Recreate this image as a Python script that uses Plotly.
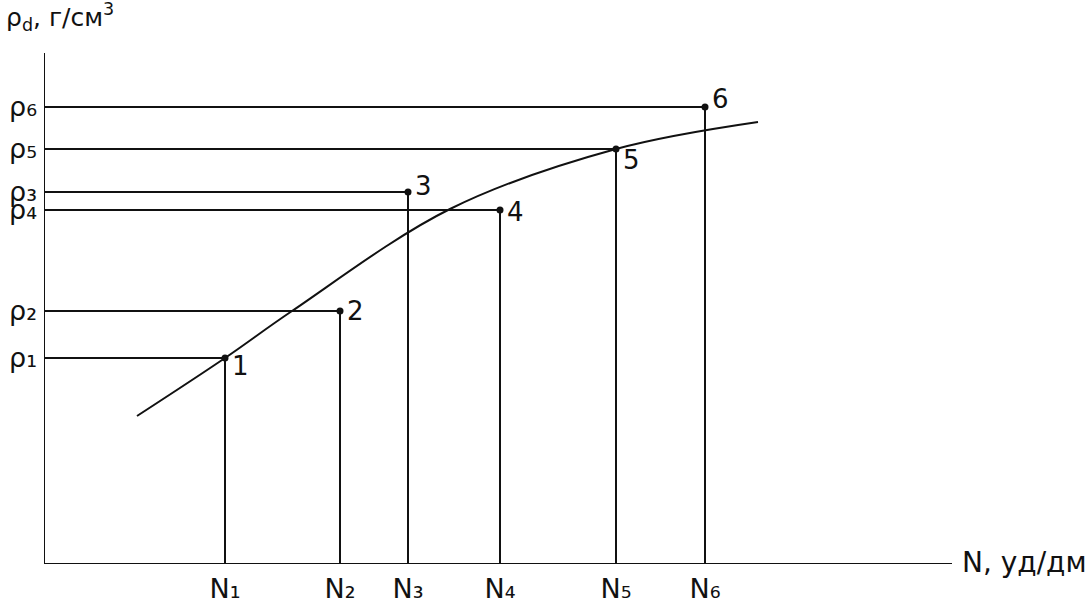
import plotly.graph_objects as go

# Data (arbitrary units)
point_ids = ["1", "2", "3", "4", "5", "6"]
N_vals = [181, 296, 364, 456, 572, 661]
rho_vals = [206, 253, 372, 354, 415, 457]
N_labels = ["N₁", "N₂", "N₃", "N₄", "N₅", "N₆"]
rho_labels = ["ρ₁", "ρ₂", "ρ₃", "ρ₄", "ρ₅", "ρ₆"]

curve_x = [93, 181, 248, 406, 572, 714]
curve_y = [148, 206, 253, 355, 415, 442]

x_axis_end = 908
y_axis_end = 511

# label offsets (px) for point numbers
label_dy = [-8, 0, 6, -2, -11, 8]

FONT = "DejaVu Sans"
COL = "#111111"

fig = go.Figure()

# axes
fig.add_trace(go.Scatter(x=[0, 0, None, 0, x_axis_end], y=[y_axis_end, 0, None, 0, 0],
                         mode="lines", line=dict(color=COL, width=2), hoverinfo="skip"))

# projection lines
gx, gy = [], []
for n, r in zip(N_vals, rho_vals):
    gx += [0, n, n, None]
    gy += [r, r, 0, None]
fig.add_trace(go.Scatter(x=gx, y=gy, mode="lines", line=dict(color=COL, width=2), hoverinfo="skip"))

# curve
fig.add_trace(go.Scatter(x=curve_x, y=curve_y, mode="lines",
                         line=dict(color=COL, width=2, shape="spline", smoothing=1.0), hoverinfo="skip"))

# points
fig.add_trace(go.Scatter(x=N_vals, y=rho_vals, mode="markers",
                         marker=dict(color=COL, size=7), hoverinfo="skip"))

for pid, n, r, dy in zip(point_ids, N_vals, rho_vals, label_dy):
    fig.add_annotation(x=n, y=r, text=pid, showarrow=False, xanchor="left", yanchor="middle",
                       xshift=5, yshift=dy, font=dict(family=FONT, size=26, color=COL))

fig.add_annotation(xref="paper", yref="paper", x=-40 / 1045, y=547 / 564,
                   text="ρ<sub>d</sub>, г/см<sup>3</sup>", showarrow=False,
                   xanchor="left", yanchor="middle", font=dict(family=FONT, size=25, color=COL))
fig.add_annotation(x=x_axis_end + 8, y=0, text="N, уд/дм", showarrow=False,
                   xanchor="left", yanchor="middle", yshift=2, font=dict(family=FONT, size=28, color=COL))

fig.update_layout(
    width=1089, height=605,
    margin=dict(l=44, r=0, t=0, b=41),
    plot_bgcolor="white", paper_bgcolor="white",
    showlegend=False,
    xaxis=dict(range=[0, 1045], showgrid=False, zeroline=False, showline=False,
               tickmode="array", tickvals=N_vals, ticktext=N_labels, ticks="",
               ticklabelstandoff=6,
               tickfont=dict(family=FONT, size=27, color=COL)),
    yaxis=dict(range=[0, 564], showgrid=False, zeroline=False, showline=False,
               tickmode="array", tickvals=rho_vals, ticktext=rho_labels, ticks="",
               ticklabelstandoff=6,
               tickfont=dict(family=FONT, size=27, color=COL)),
)

fig.write_html("out.html", config={"displayModeBar": False},
               post_script="document.body.style.margin='0';document.body.style.overflow='hidden';")
